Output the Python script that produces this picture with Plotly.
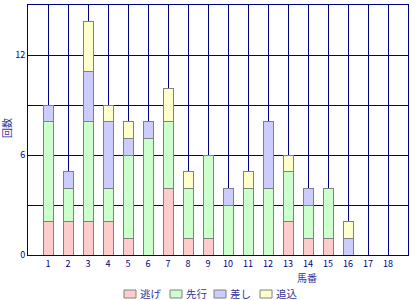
import plotly.graph_objects as go

horses = list(range(1, 19))
tick_labels = [str(h) for h in horses]
nige =    [2, 2, 2, 2, 1, 0, 4, 1, 1, 0, 0, 0, 2, 1, 1, 0, 0, 0]
senko =   [6, 2, 6, 2, 5, 7, 4, 3, 5, 3, 4, 4, 3, 2, 3, 0, 0, 0]
sashi =   [1, 1, 3, 4, 1, 1, 0, 0, 0, 1, 0, 4, 0, 1, 0, 1, 0, 0]
oikomi =  [0, 0, 3, 1, 1, 0, 2, 1, 0, 0, 1, 0, 1, 0, 0, 1, 0, 0]

series = [("逃げ", nige, "#FFCCCC"), ("先行", senko, "#CCFFCC"),
          ("差し", sashi, "#CCCCFF"), ("追込", oikomi, "#FFFFCC")]

navy = "#000080"
txt = "#333399"
font_fam = "Noto Sans CJK JP, DejaVu Sans, sans-serif"

L, R, T, B = 28, 12, 5, 45
PW, PH = 420 - L - R, 300 - T - B

def px(x):
    return (x - L) / PW

def py(y):
    return (300 - B - y) / PH

fig = go.Figure()
for name, vals, col in series:
    fig.add_trace(go.Bar(x=horses, y=vals, name=name, width=0.5, showlegend=False,
                         marker=dict(color=col, line=dict(color="#808080", width=1))))

shapes = []
annotations = [
    dict(text="馬番", x=px(307), xref="paper", xanchor="center", y=py(277), yref="paper",
         yanchor="middle", showarrow=False, borderpad=0, font=dict(size=10, color=txt)),
    dict(text="回数", x=px(6), xref="paper", xanchor="center", y=py(128), yref="paper",
         yanchor="middle", textangle=-90, showarrow=False, borderpad=0,
         font=dict(size=10, color=txt)),
]
box_left = [124, 170, 214, 260]
for (name, vals, col), bx in zip(series, box_left):
    shapes.append(dict(type="rect", xref="paper", yref="paper",
                       x0=px(bx), x1=px(bx + 12), y0=py(298), y1=py(290),
                       fillcolor=col, line=dict(color="#808080", width=1)))
    annotations.append(dict(text=name, xref="paper", yref="paper", x=px(bx + 15), y=py(293),
                            xanchor="left", yanchor="middle", showarrow=False, borderpad=0,
                            font=dict(size=10.5, color=txt)))

fig.update_layout(
    width=420, height=300, barmode="stack",
    margin=dict(l=L, r=R, t=T, b=B, autoexpand=False),
    plot_bgcolor="white", paper_bgcolor="white",
    font=dict(family=font_fam, size=9, color=navy),
    showlegend=False,
    xaxis=dict(range=[0, 19], tickvals=horses, ticktext=tick_labels,
               showgrid=True, gridcolor=navy, gridwidth=1,
               showline=True, linecolor=navy, linewidth=1, mirror=True,
               zeroline=False, ticks="", tickfont=dict(size=9, color=navy)),
    yaxis=dict(range=[0, 15], tickvals=[0, 3, 6, 9, 12], ticktext=["0", "", "6", "", "12"],
               showgrid=True, gridcolor=navy, gridwidth=1,
               showline=True, linecolor=navy, linewidth=1, mirror=True,
               zeroline=False, ticks="", tickfont=dict(size=9, color=navy)),
    shapes=shapes,
    annotations=annotations,
)

fig.write_html("out.html")
